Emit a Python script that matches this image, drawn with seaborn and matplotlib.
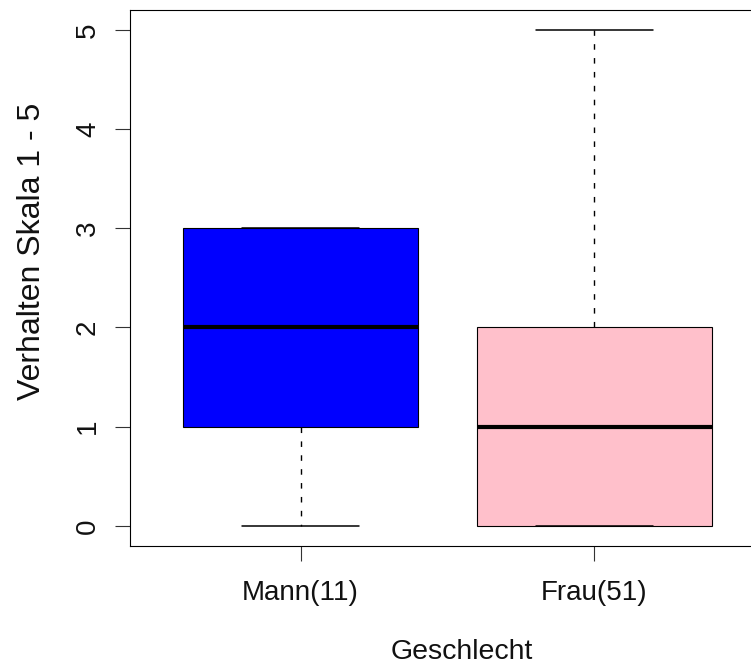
import matplotlib
matplotlib.use("Agg")
import matplotlib.pyplot as plt
import seaborn as sns
import pandas as pd

# Data (raw responses, chosen to reproduce the drawn box statistics)
categories = ["Mann(11)", "Frau(51)"]
mann_values = [0, 1, 1, 1, 2, 2, 2, 3, 3, 3, 3]
frau_values = ([0] * 14 + [1] * 13 + [2] * 12 + [3] * 6 + [4] * 4 + [5] * 2)
box_colors = ["#0000FF", "#FFC0CB"]
y_ticks = [0, 1, 2, 3, 4, 5]
x_label = "Geschlecht"
y_label = "Verhalten Skala 1 - 5"

df = pd.DataFrame({
    "Geschlecht": [categories[0]] * len(mann_values) + [categories[1]] * len(frau_values),
    "Wert": mann_values + frau_values,
})

sns.set_style("ticks")
plt.rcParams["font.family"] = ["Liberation Sans", "DejaVu Sans"]

W, H = 751, 666
fig = plt.figure(figsize=(W / 100, H / 100), dpi=100)
left, right, top, bottom = 130, 765, 10, 545.7
ax = fig.add_axes([left / W, 1 - bottom / H, (right - left) / W, (bottom - top) / H])

sns.boxplot(
    data=df, x="Geschlecht", y="Wert", hue="Geschlecht", order=categories,
    hue_order=categories, palette=box_colors, saturation=1, width=0.8, whis=1.5,
    linecolor="black", linewidth=0.8, legend=False, ax=ax,
    medianprops=dict(linewidth=3.0, color="black", solid_capstyle="butt"),
    whiskerprops=dict(linestyle=(0, (4, 6)), linewidth=1.0, color="black"),
    capprops=dict(linewidth=1.1, color="black"),
    boxprops=dict(edgecolor="black", linewidth=0.8),
)

ax.set_xlim(-0.58, 1.58)
ax.set_ylim(-0.2, 5.2)
ax.set_yticks(y_ticks)
ax.set_yticklabels([str(t) for t in y_ticks], rotation=90, va="center")
for s in ax.spines.values():
    s.set_visible(True)
    s.set_linewidth(0.8)
    s.set_color("black")

ax.tick_params(axis="both", direction="out", length=10.8, width=0.8, color="#333333",
               labelsize=20, labelcolor="#111111")
ax.tick_params(axis="y", pad=10)
ax.tick_params(axis="x", pad=14)

ax.set_xlabel(x_label, fontsize=20.5, color="#111111")
ax.set_ylabel(y_label, fontsize=23, color="#111111")
ax.xaxis.label.set_va("center")
ax.yaxis.label.set_va("center")
ax.xaxis.set_label_coords((462 - left) / (right - left), (bottom - 652) / (bottom - top))
ax.yaxis.set_label_coords((32.5 - left) / (right - left), (bottom - 251) / (bottom - top))

fig.savefig("out.png", dpi=100)
